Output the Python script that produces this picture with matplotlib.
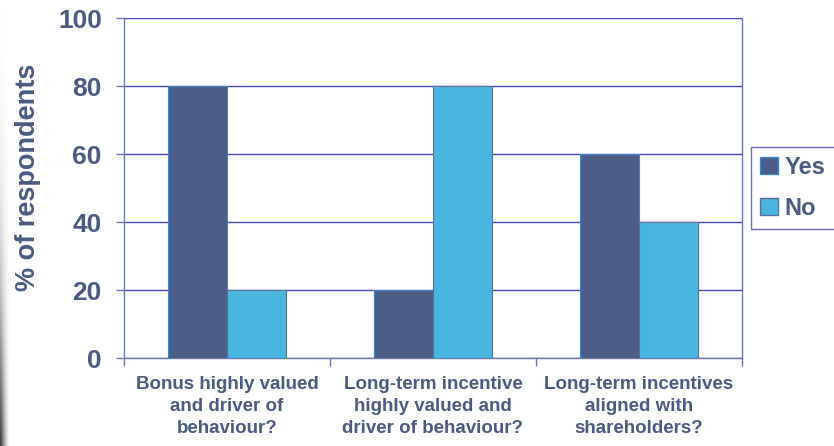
import numpy as np
import matplotlib.pyplot as plt
from matplotlib.patches import Patch

# ---------- data ----------
categories = ['Bonus highly valued\nand driver of\nbehaviour?',
              'Long-term incentive\nhighly valued and\ndriver of behaviour?',
              'Long-term incentives\naligned with\nshareholders?']
yes_vals = [80, 20, 60]
no_vals = [20, 80, 40]
series_names = ['Yes', 'No']

yes_color = '#4a5e87'
no_color = '#48b5de'
text_color = '#4a5a82'
grid_color = '#4545b8'
spine_color = '#6a78a8'

plt.rcParams['font.family'] = ['Liberation Sans', 'DejaVu Sans']
plt.rcParams['font.weight'] = 'bold'

fig = plt.figure(figsize=(8.34, 4.46), dpi=100)
ax = fig.add_axes([124 / 834, 1 - 358 / 446, 618 / 834, 340 / 446])

x = np.arange(len(categories))
w = 0.286
ax.bar(x - w / 2, yes_vals, w, color=yes_color, edgecolor='#3d86c6', linewidth=0.8, zorder=3)
ax.bar(x + w / 2, no_vals, w, color=no_color, edgecolor='#5a6e96', linewidth=0.8, zorder=3)

ax.set_xlim(-0.5, 2.5)
ax.set_ylim(0, 100)
ax.set_yticks([0, 20, 40, 60, 80, 100])
ax.yaxis.grid(True, color=grid_color, linewidth=1.0, zorder=0)
ax.set_axisbelow(True)

ax.set_xticks(x)
ax.set_xticklabels(categories, fontsize=13.5, color=text_color, linespacing=1.38,
                   fontweight='bold')
ax.set_xticks([-0.5, 0.5, 1.5, 2.5], minor=True)
ax.tick_params(axis='x', which='major', length=0, pad=13)
ax.tick_params(axis='x', which='minor', length=6, color=spine_color, width=1)
ax.tick_params(axis='y', length=6, color=spine_color, width=1, pad=10,
               labelsize=19, labelcolor=text_color)
for t in ax.get_yticklabels():
    t.set_fontweight('bold')

for s in ['left', 'bottom', 'right']:
    ax.spines[s].set_color(spine_color)
    ax.spines[s].set_linewidth(1.0)
ax.spines['top'].set_visible(False)

ax.set_ylabel('% of respondents', fontsize=19.5, color=text_color, fontweight='bold')
ax.yaxis.set_label_coords(-0.135, 0.53)

handles = [Patch(facecolor=yes_color, edgecolor='#3d86c6'),
           Patch(facecolor=no_color, edgecolor='#5a6e96')]
leg = fig.legend(handles, series_names, loc='upper left',
                 bbox_to_anchor=(751 / 834, 1 - 147 / 446),
                 frameon=True, fancybox=False,
                 prop={'size': 17, 'weight': 'bold'},
                 handlelength=0.75, handleheight=0.75, handletextpad=0.3,
                 borderpad=0.38, labelspacing=0.75, borderaxespad=0)
leg.get_frame().set_edgecolor('#4545b8')
leg.get_frame().set_linewidth(1.0)
for t in leg.get_texts():
    t.set_color(text_color)

# dark shading at the left edge of the slide
edge = fig.add_axes([0, 0, 10 / 834, 1])
grad = (np.linspace(0.05, 0.9, 200) ** 2)[:, None] * np.linspace(1, 0, 10)[None, :]
edge.imshow(grad, cmap='Greys', aspect='auto', vmin=0, vmax=1)
edge.axis('off')

fig.savefig('out.png', dpi=100)
